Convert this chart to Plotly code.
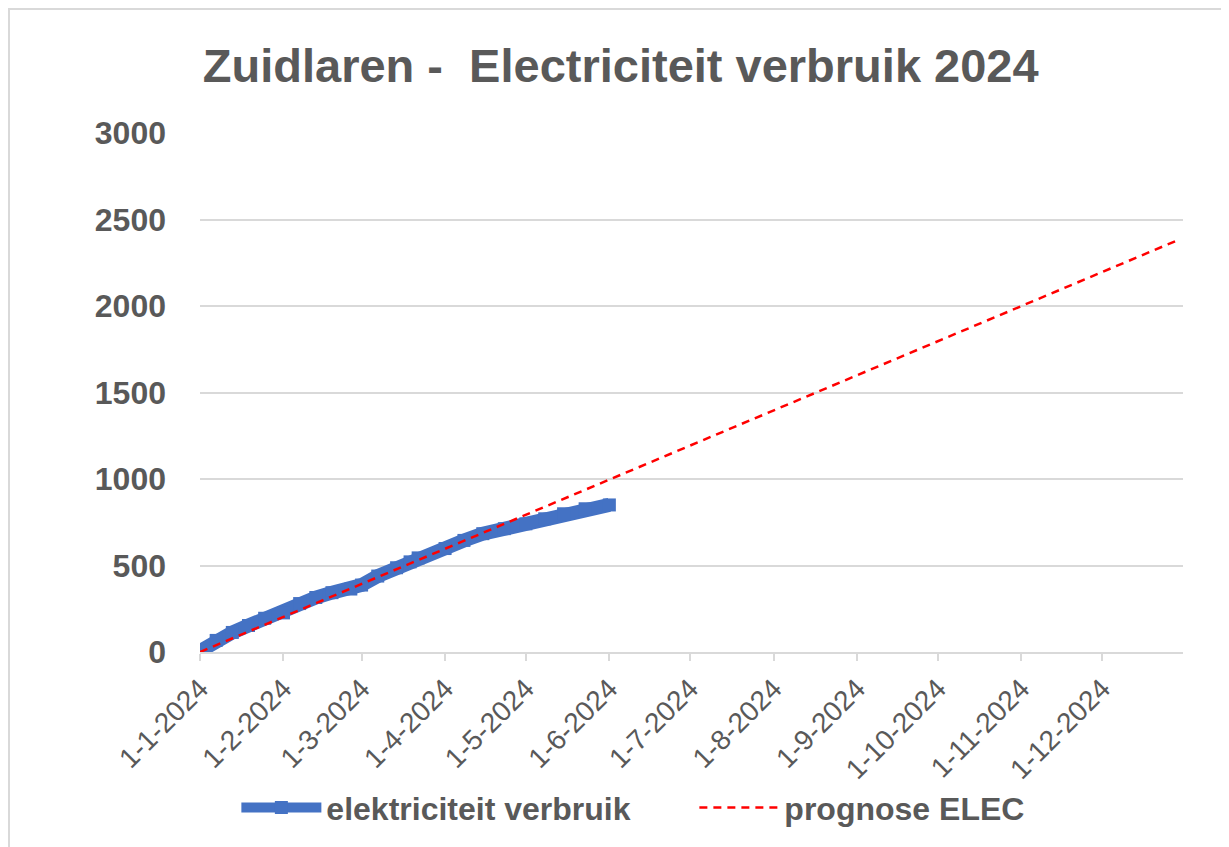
import plotly.graph_objects as go

# gemeten verbruik (kWh, cumulatief)
verbruik_datum = ['2024-01-01', '2024-01-07', '2024-01-13', '2024-01-19', '2024-01-25',
                  '2024-02-01', '2024-02-07', '2024-02-13', '2024-02-19', '2024-02-26',
                  '2024-03-01', '2024-03-07', '2024-03-14', '2024-03-19', '2024-03-22',
                  '2024-04-01', '2024-04-08', '2024-04-15', '2024-04-23', '2024-05-01',
                  '2024-05-08', '2024-05-15', '2024-05-23', '2024-06-01']
verbruik_kwh = [5, 67, 113, 153, 195,
                226, 280, 315, 343, 364,
                387, 439, 487, 521, 544,
                598, 645, 684, 713, 741,
                770, 799, 828, 850]

# prognose
prognose_datum = ['2024-01-01', '2024-02-01', '2024-03-01', '2024-04-01', '2024-05-01',
                  '2024-06-01', '2024-07-01', '2024-08-01', '2024-09-01', '2024-10-01',
                  '2024-11-01', '2024-12-01', '2024-12-29']
prognose_kwh = [0, 203, 393, 597, 793, 997, 1193, 1397, 1600, 1797, 2000, 2197, 2380]

tick_datum = ['2024-%02d-01' % m for m in range(1, 13)]
tick_tekst = ['1-%d-2024' % m for m in range(1, 13)]

grijs = '#595959'
lijn = '#d9d9d9'
font = 'Liberation Sans, Arial, sans-serif'

fig = go.Figure()
fig.add_trace(go.Scatter(x=verbruik_datum, y=verbruik_kwh, name='elektriciteit verbruik',
                         mode='lines+markers',
                         line=dict(color='#4472C4', width=14),
                         marker=dict(symbol='square', size=13, color='#4472C4')))
fig.add_trace(go.Scatter(x=prognose_datum, y=prognose_kwh, name='prognose ELEC',
                         mode='lines',
                         line=dict(color='#ff0000', width=2.5, dash='8px,6px')))

# pagina heeft 8px body-marge, dus figuur iets kleiner
fig.update_layout(
    width=1221, height=839,
    margin=dict(l=192, r=46, t=125, b=195, autoexpand=False),
    paper_bgcolor='white', plot_bgcolor='white',
    font=dict(family=font, color=grijs),
    title=dict(text='Zuidlaren - \u00a0Electriciteit verbruik 2024',
               x=0.428, xref='paper', xanchor='center',
               y=0.932, yref='container', yanchor='middle',
               font=dict(size=47, color=grijs, weight='bold')),
    legend=dict(orientation='h', x=0.037, xanchor='left', y=-0.30, yanchor='middle',
                font=dict(size=32, color=grijs, weight='bold'),
                itemwidth=80, entrywidth=363, entrywidthmode='pixels',
                traceorder='normal'),
    shapes=[dict(type='rect', xref='paper', yref='paper', x0=-0.1943, x1=1.3,
                 y0=-1, y1=1.2389, line=dict(color=lijn, width=2), layer='below')],
)
fig.update_xaxes(range=['2024-01-01', '2024-12-31'], tickvals=tick_datum, ticktext=tick_tekst,
                 tickangle=-45, tickfont=dict(size=28, color=grijs),
                 showgrid=False, showline=True, linecolor=lijn, linewidth=2,
                 ticks='outside', ticklen=7, tickwidth=2, tickcolor=lijn, zeroline=False)
fig.update_yaxes(range=[0, 3000], dtick=500, tickfont=dict(size=32, color=grijs, weight='bold'),
                 showgrid=True, gridcolor=lijn, gridwidth=2, zeroline=False,
                 showline=False, ticklabelstandoff=33)

fig.write_html("out.html")
